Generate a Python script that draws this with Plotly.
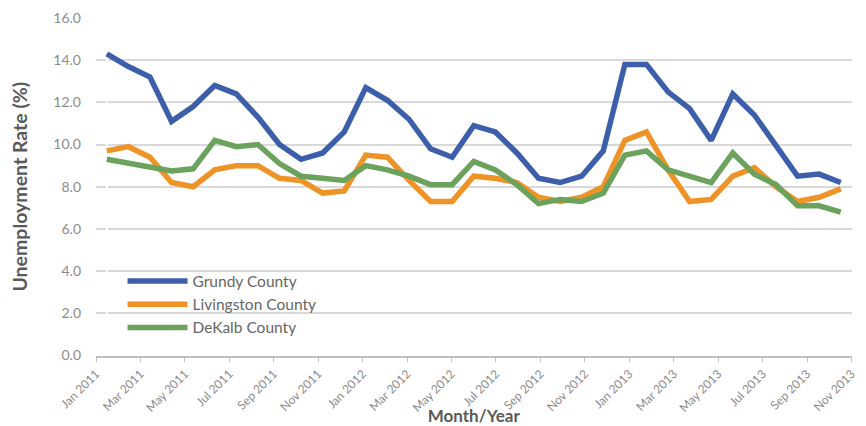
import plotly.graph_objects as go

months = ["Jan", "Feb", "Mar", "Apr", "May", "Jun", "Jul", "Aug", "Sep", "Oct", "Nov", "Dec"]
periods = [f"{m} {y}" for y in (2011, 2012, 2013) for m in months][:35]

grundy = [14.3, 13.7, 13.2, 11.1, 11.8, 12.8, 12.4, 11.3, 10.0, 9.3, 9.6, 10.6,
          12.7, 12.1, 11.2, 9.8, 9.4, 10.9, 10.6, 9.6, 8.4, 8.2, 8.5, 9.7,
          13.8, 13.8, 12.5, 11.7, 10.2, 12.4, 11.4, 9.9, 8.5, 8.6, 8.2]
livingston = [9.7, 9.9, 9.4, 8.2, 8.0, 8.8, 9.0, 9.0, 8.4, 8.3, 7.7, 7.8,
              9.5, 9.4, 8.3, 7.3, 7.3, 8.5, 8.4, 8.2, 7.5, 7.3, 7.5, 8.0,
              10.2, 10.6, 8.8, 7.3, 7.4, 8.5, 8.9, 8.0, 7.3, 7.5, 7.9]
dekalb = [9.3, 9.1, 8.9, 8.75, 8.85, 10.2, 9.9, 10.0, 9.1, 8.5, 8.4, 8.3,
          9.0, 8.8, 8.5, 8.1, 8.1, 9.2, 8.8, 8.1, 7.2, 7.4, 7.3, 7.7,
          9.5, 9.7, 8.8, 8.5, 8.2, 9.6, 8.6, 8.1, 7.1, 7.1, 6.8]

tick_labels = periods[0::2]  # Jan 2011 ... Nov 2013

series = [
    ("Grundy County", grundy, "#3D5EAB"),
    ("Livingston County", livingston, "#EF9327"),
    ("DeKalb County", dekalb, "#6BA25C"),
]

idx = list(range(len(periods)))
font = "Lato"

fig = go.Figure()

# drop shadows, drawn on a hidden subplot nudged a couple of pixels down-right
for name, vals, color in series:
    fig.add_trace(go.Scatter(
        x=idx, y=vals, mode="lines", showlegend=False, hoverinfo="skip",
        line=dict(color="rgba(120,120,120,0.55)", width=5.5),
        xaxis="x", yaxis="y"
    ))

for name, vals, color in series:
    fig.add_trace(go.Scatter(
        x=idx, y=vals, mode="lines", name=name,
        text=periods, hovertemplate="%{text}: %{y:.1f}%<extra>" + name + "</extra>",
        line=dict(color=color, width=5.5),
        xaxis="x2", yaxis="y2"
    ))

# the page body has an 8px margin, so everything is shifted 8px up/left
fig_w, fig_h = 858, 418
plot_w, plot_h, shift = 756, 338, 2.5
left, top = 88, 10
xr = [-0.5, 34.5]
tickvals = [round(xr[0] + k * (xr[1] - xr[0]) / 17, 6) for k in range(18)]

fig.update_layout(
    width=fig_w, height=fig_h,
    margin=dict(l=left, r=fig_w - left - plot_w - shift, t=top, b=fig_h - top - plot_h - shift, pad=0),
    plot_bgcolor="white", paper_bgcolor="white",
    font=dict(family=font, color="#7f7f7f"),
    xaxis=dict(domain=[shift / (plot_w + shift), 1], range=xr, visible=False),
    yaxis=dict(domain=[0, plot_h / (plot_h + shift)], range=[0, 16], visible=False),
    xaxis2=dict(
        domain=[0, plot_w / (plot_w + shift)], range=[xr[0], xr[1] + 1e-6], anchor="y2", automargin=False,
        tickvals=tickvals, ticktext=tick_labels, tickangle=-45,
        tickfont=dict(size=12, color="#8c8c8c"),
        showgrid=False, showline=True, linecolor="#bfbfbf", linewidth=1.5,
        ticks="outside", ticklen=5, tickcolor="#bfbfbf",
        title=dict(text="<b>Month/Year</b>", font=dict(size=17, color="#595959"), standoff=10),
    ),
    yaxis2=dict(
        domain=[shift / (plot_h + shift), 1], range=[0, 16], anchor="x2", automargin=False,
        dtick=2, tickformat=".1f", tickfont=dict(size=14, color="#8c8c8c"),
        showgrid=True, gridcolor="#d9d9d9", gridwidth=1.5, zeroline=False,
        ticklabelstandoff=14,
        title=dict(text="<b>Unemployment Rate (%)</b>", font=dict(size=19.5, color="#595959"), standoff=22),
    ),
    legend=dict(
        x=0.035, y=0.275, xanchor="left", yanchor="top",
        bgcolor="rgba(0,0,0,0)", font=dict(size=15.5, color="#666666"),
        itemwidth=60, tracegroupgap=0,
    ),
)

fig.write_html("out.html")
